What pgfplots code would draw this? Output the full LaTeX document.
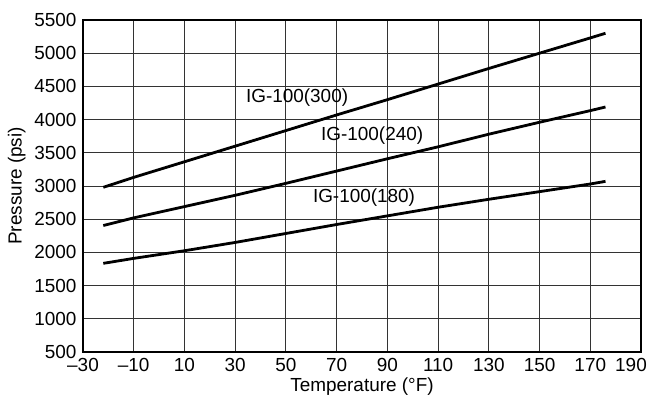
\documentclass[border=0pt]{standalone}
\usepackage{pgfplots}
\pgfplotsset{compat=1.18}
\usepackage{fontspec}
\setmainfont{Liberation Sans}
\usetikzlibrary{calc}
\begin{document}
\fontsize{19}{22}\selectfont
\begin{tikzpicture}
\begin{axis}[
  name=ax,
  scale only axis, width=558bp, height=332bp,
  xmin=-30, xmax=190, ymin=500, ymax=5500,
  xtick={-30,-10,...,190},
  xticklabels={–30,–10,10,30,50,70,90,110,130,150,170,\hspace{-20bp}190},
  ytick={500,1000,...,5500},
  grid=major,
  major grid style={black!80, line width=0.9bp},
  axis line style={black, line width=1.4bp},
  major tick length=0pt,
  tick label style={font=\fontsize{19}{22}\selectfont},
  label style={font=\fontsize{19}{22}\selectfont},
  xlabel style={yshift=7bp},
  ylabel style={yshift=-4bp},
  /pgf/number format/assume math mode=true,
  /pgf/number format/set thousands separator={},
  xlabel={Temperature (°F)},
  ylabel={Pressure (psi)},
]
\addplot[black, line width=2.8bp, no markers] coordinates {(-22,2980) (-10,3130) (10,3365) (30,3600) (50,3835) (70,4070) (90,4300) (110,4535) (130,4770) (150,5000) (170,5230) (176,5300)};
\addplot[black, line width=2.8bp, no markers] coordinates {(-22,2405) (-10,2520) (10,2690) (30,2860) (50,3040) (70,3225) (90,3410) (110,3590) (130,3780) (150,3960) (170,4135) (176,4190)};
\addplot[black, line width=2.8bp, no markers] coordinates {(-22,1835) (-10,1910) (10,2025) (30,2150) (50,2285) (70,2420) (90,2550) (110,2680) (130,2800) (150,2915) (170,3030) (176,3070)};
\node[font=\fontsize{19}{22}\selectfont] at (axis cs:54.4,4325) {IG-100(300)};
\node[font=\fontsize{19}{22}\selectfont] at (axis cs:84,3753) {IG-100(240)};
\node[font=\fontsize{19}{22}\selectfont] at (axis cs:80.8,2819) {IG-100(180)};
\end{axis}
\pgfresetboundingbox
\path[use as bounding box] ($(ax.south west)+(-83bp,-47bp)$) rectangle ($(ax.north east)+(7bp,20bp)$);
\end{tikzpicture}
\end{document}
